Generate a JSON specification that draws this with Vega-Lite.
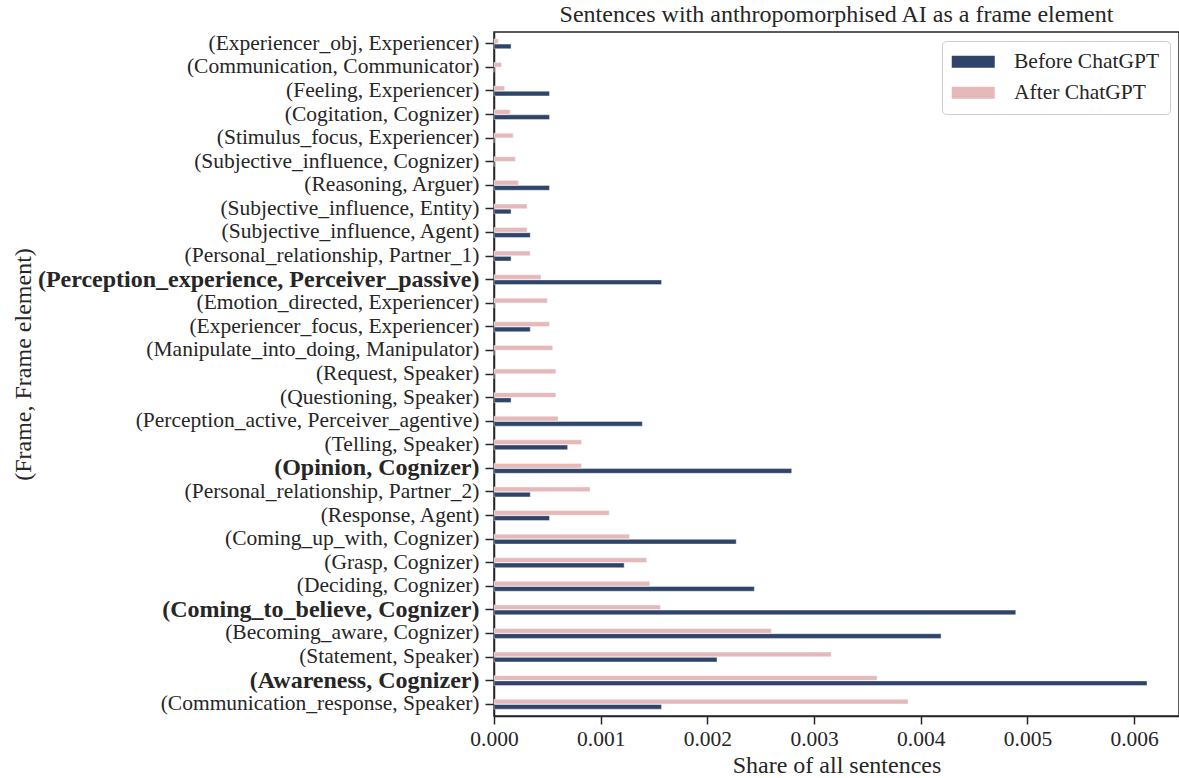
{
  "$schema": "https://vega.github.io/schema/vega-lite/v6.json",
  "autosize": {"type": "none"},
  "padding": {"left": 494, "top": 32, "right": 0, "bottom": 62},
  "width": 685,
  "height": 684,
  "background": "white",
  "title": {"text": "Sentences with anthropomorphised AI as a frame element", "font": "Liberation Serif", "fontSize": 24, "fontWeight": "normal", "color": "#262626", "anchor": "middle", "offset": 5},
  "data": {"values": [
    {"frame": "(Experiencer_obj, Experiencer)", "period": "Before ChatGPT", "share": 0.00016},
    {"frame": "(Experiencer_obj, Experiencer)", "period": "After ChatGPT", "share": 0.00004},
    {"frame": "(Communication, Communicator)", "period": "Before ChatGPT", "share": 0},
    {"frame": "(Communication, Communicator)", "period": "After ChatGPT", "share": 0.00007},
    {"frame": "(Feeling, Experiencer)", "period": "Before ChatGPT", "share": 0.00052},
    {"frame": "(Feeling, Experiencer)", "period": "After ChatGPT", "share": 0.0001},
    {"frame": "(Cogitation, Cognizer)", "period": "Before ChatGPT", "share": 0.00052},
    {"frame": "(Cogitation, Cognizer)", "period": "After ChatGPT", "share": 0.00015},
    {"frame": "(Stimulus_focus, Experiencer)", "period": "Before ChatGPT", "share": 0},
    {"frame": "(Stimulus_focus, Experiencer)", "period": "After ChatGPT", "share": 0.00018},
    {"frame": "(Subjective_influence, Cognizer)", "period": "Before ChatGPT", "share": 0},
    {"frame": "(Subjective_influence, Cognizer)", "period": "After ChatGPT", "share": 0.0002},
    {"frame": "(Reasoning, Arguer)", "period": "Before ChatGPT", "share": 0.00052},
    {"frame": "(Reasoning, Arguer)", "period": "After ChatGPT", "share": 0.00023},
    {"frame": "(Subjective_influence, Entity)", "period": "Before ChatGPT", "share": 0.00016},
    {"frame": "(Subjective_influence, Entity)", "period": "After ChatGPT", "share": 0.00031},
    {"frame": "(Subjective_influence, Agent)", "period": "Before ChatGPT", "share": 0.00034},
    {"frame": "(Subjective_influence, Agent)", "period": "After ChatGPT", "share": 0.00031},
    {"frame": "(Personal_relationship, Partner_1)", "period": "Before ChatGPT", "share": 0.00016},
    {"frame": "(Personal_relationship, Partner_1)", "period": "After ChatGPT", "share": 0.00034},
    {"frame": "(Perception_experience, Perceiver_passive)", "period": "Before ChatGPT", "share": 0.00157},
    {"frame": "(Perception_experience, Perceiver_passive)", "period": "After ChatGPT", "share": 0.00044},
    {"frame": "(Emotion_directed, Experiencer)", "period": "Before ChatGPT", "share": 0},
    {"frame": "(Emotion_directed, Experiencer)", "period": "After ChatGPT", "share": 0.0005},
    {"frame": "(Experiencer_focus, Experiencer)", "period": "Before ChatGPT", "share": 0.00034},
    {"frame": "(Experiencer_focus, Experiencer)", "period": "After ChatGPT", "share": 0.00052},
    {"frame": "(Manipulate_into_doing, Manipulator)", "period": "Before ChatGPT", "share": 0},
    {"frame": "(Manipulate_into_doing, Manipulator)", "period": "After ChatGPT", "share": 0.00055},
    {"frame": "(Request, Speaker)", "period": "Before ChatGPT", "share": 0},
    {"frame": "(Request, Speaker)", "period": "After ChatGPT", "share": 0.00058},
    {"frame": "(Questioning, Speaker)", "period": "Before ChatGPT", "share": 0.00016},
    {"frame": "(Questioning, Speaker)", "period": "After ChatGPT", "share": 0.00058},
    {"frame": "(Perception_active, Perceiver_agentive)", "period": "Before ChatGPT", "share": 0.00139},
    {"frame": "(Perception_active, Perceiver_agentive)", "period": "After ChatGPT", "share": 0.0006},
    {"frame": "(Telling, Speaker)", "period": "Before ChatGPT", "share": 0.00069},
    {"frame": "(Telling, Speaker)", "period": "After ChatGPT", "share": 0.00082},
    {"frame": "(Opinion, Cognizer)", "period": "Before ChatGPT", "share": 0.00279},
    {"frame": "(Opinion, Cognizer)", "period": "After ChatGPT", "share": 0.00082},
    {"frame": "(Personal_relationship, Partner_2)", "period": "Before ChatGPT", "share": 0.00034},
    {"frame": "(Personal_relationship, Partner_2)", "period": "After ChatGPT", "share": 0.0009},
    {"frame": "(Response, Agent)", "period": "Before ChatGPT", "share": 0.00052},
    {"frame": "(Response, Agent)", "period": "After ChatGPT", "share": 0.00108},
    {"frame": "(Coming_up_with, Cognizer)", "period": "Before ChatGPT", "share": 0.00227},
    {"frame": "(Coming_up_with, Cognizer)", "period": "After ChatGPT", "share": 0.00127},
    {"frame": "(Grasp, Cognizer)", "period": "Before ChatGPT", "share": 0.00122},
    {"frame": "(Grasp, Cognizer)", "period": "After ChatGPT", "share": 0.00143},
    {"frame": "(Deciding, Cognizer)", "period": "Before ChatGPT", "share": 0.00244},
    {"frame": "(Deciding, Cognizer)", "period": "After ChatGPT", "share": 0.00146},
    {"frame": "(Coming_to_believe, Cognizer)", "period": "Before ChatGPT", "share": 0.00489},
    {"frame": "(Coming_to_believe, Cognizer)", "period": "After ChatGPT", "share": 0.00156},
    {"frame": "(Becoming_aware, Cognizer)", "period": "Before ChatGPT", "share": 0.00419},
    {"frame": "(Becoming_aware, Cognizer)", "period": "After ChatGPT", "share": 0.0026},
    {"frame": "(Statement, Speaker)", "period": "Before ChatGPT", "share": 0.00209},
    {"frame": "(Statement, Speaker)", "period": "After ChatGPT", "share": 0.00316},
    {"frame": "(Awareness, Cognizer)", "period": "Before ChatGPT", "share": 0.00612},
    {"frame": "(Awareness, Cognizer)", "period": "After ChatGPT", "share": 0.00359},
    {"frame": "(Communication_response, Speaker)", "period": "Before ChatGPT", "share": 0.00157},
    {"frame": "(Communication_response, Speaker)", "period": "After ChatGPT", "share": 0.00388}
  ]},
  "mark": {"type": "bar", "stroke": "white", "strokeWidth": 0.4},
  "encoding": {
    "y": {
      "field": "frame", "type": "nominal", "sort": null,
      "scale": {"paddingInner": 0.58, "paddingOuter": 0.29},
      "axis": {
        "title": "(Frame, Frame element)",
        "titleFont": "Liberation Serif", "titleFontSize": 24, "titleFontWeight": "normal", "titleColor": "#262626",
        "titleAngle": 270, "titleX": -483, "titleY": 332, "titleAlign": "center", "titleBaseline": "top",
        "labelFont": "Liberation Serif", "labelFontSize": {"condition": {"test": "indexof(['(Perception_experience, Perceiver_passive)', '(Opinion, Cognizer)', '(Coming_to_believe, Cognizer)', '(Awareness, Cognizer)'], datum.value) >= 0", "value": 24}, "value": 21.5},
        "labelColor": "#262626", "labelLimit": 600, "labelPadding": 6,
        "labelFontWeight": {"condition": {"test": "indexof(['(Perception_experience, Perceiver_passive)', '(Opinion, Cognizer)', '(Coming_to_believe, Cognizer)', '(Awareness, Cognizer)'], datum.value) >= 0", "value": "bold"}, "value": "normal"},
        "tickSize": 9, "tickColor": "#262626", "tickWidth": 1.5,
        "domainColor": "#262626", "domainWidth": 1.5, "grid": false
      }
    },
    "yOffset": {
      "field": "period", "type": "nominal",
      "sort": ["After ChatGPT", "Before ChatGPT"],
      "scale": {"paddingInner": 0.1}
    },
    "x": {
      "field": "share", "type": "quantitative",
      "scale": {"domain": [0, 0.00642], "nice": false, "zero": true},
      "axis": {
        "title": "Share of all sentences",
        "titleFont": "Liberation Serif", "titleFontSize": 24, "titleFontWeight": "normal", "titleColor": "#262626", "titlePadding": 4,
        "values": [0, 0.001, 0.002, 0.003, 0.004, 0.005, 0.006], "format": ".3f",
        "labelFont": "Liberation Serif", "labelFontSize": 21.5, "labelColor": "#262626", "labelPadding": 4, "labelFlush": false,
        "tickSize": 8, "tickColor": "#262626", "tickWidth": 1.5,
        "domainColor": "#262626", "domainWidth": 1.5, "grid": false
      }
    },
    "color": {
      "field": "period", "type": "nominal",
      "scale": {"domain": ["Before ChatGPT", "After ChatGPT"], "range": ["#2e4468", "#e5b9ba"]},
      "legend": {
        "title": null, "orient": "none", "legendX": 448, "legendY": 9,
        "labelFont": "Liberation Serif", "labelFontSize": 21.5, "labelColor": "#262626", "labelOffset": 30,
        "symbolType": "M-2.6875,-0.75H2.6875V0.75H-2.6875Z", "symbolSize": 256, "symbolStrokeWidth": 0, "symbolOffset": 10.5,
        "strokeColor": "#cccccc", "fillColor": "white", "cornerRadius": 4, "padding": 10, "rowPadding": 8
      }
    }
  },
  "config": {
    "view": {"stroke": "#262626", "strokeWidth": 1.5}
  }
}
